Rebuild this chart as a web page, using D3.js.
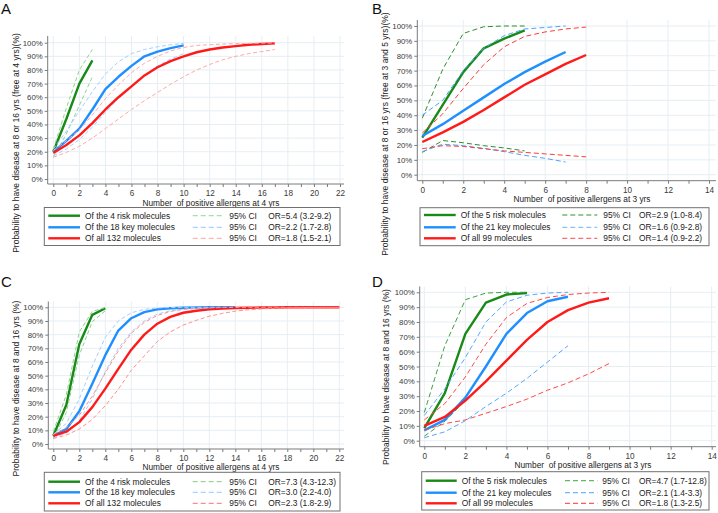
<!DOCTYPE html>
<html><head><meta charset="utf-8">
<script src="https://cdn.jsdelivr.net/npm/d3@7"></script>
<style>
html,body{margin:0;padding:0;background:#fff;}
svg{display:block;font-family:"Liberation Sans",Arial,sans-serif;}
</style></head><body>
<svg id="chart" width="718" height="513"></svg>
<script>
// ---------- DATA ----------
const percentTicks = [0,10,20,30,40,50,60,70,80,90,100];
const ticksA = [0,2,4,6,8,10,12,14,16,18,20,22];
const ticksB = [0,2,4,6,8,10,12,14];

// Panel A
const A_xRisk = [0,1,2,3];
const A_risk = [20,44,70,87];
const A_riskHi = [22,52,80,95];
const A_riskLo = [16,33,54,75];
const A_xKey = [0,1,2,3,4,5,6,7,8,9,10];
const A_key = [20,28,37,51,66,75,83,90,93.5,96,98];
const A_keyHi = [22,35,50,64,77,86,92,95,97,98.5,99.5];
const A_keyLo = [17,22,29,38,49,59,68,76,83,88,92];
const A_xAll = [0,1,2,3,4,5,6,7,8,9,10,11,12,13,14,15,16,17];
const A_all = [19,25,32,41,51,60,68,76,82,86.5,90,93,95,96.5,97.5,98.5,99,99.5];
const A_allHi = [21,28,36,47,59,69,78,85,90,94,96.5,98,98.5,99,99.3,99.5,99.7,99.8];
const A_allLo = [16,19.5,24,30,37,44,51,57.5,63.5,69.5,75,80,84,87.5,90,92,93.5,95];

// Panel B
const B_xRisk = [0,1,2,3,4,5];
const B_risk = [25,47,69,85,91.5,97];
const B_riskHi = [38,71,95,99.5,100,100];
const B_riskLo = [15,23,21.5,19.5,18,16];
const B_xKey = [0,1,2,3,4,5,6,7];
const B_key = [26,34,43,52,61,69,76,82.5];
const B_keyHi = [40,50,70,85,93.5,98,99,100];
const B_keyLo = [15.5,20.5,19.5,17.7,15.5,13,11,8.5];
const B_xAll = [0,1,2,3,4,5,6,7,8];
const B_all = [22,28.5,35.5,43.5,52,60.5,67.5,74.5,80.5];
const B_allHi = [28,41,58,74,86,93,96,98,99.3];
const B_allLo = [17.5,19.5,19,17.5,16,15,14,13,12];

// Panel C
const C_xRisk = [0,1,2,3,4];
const C_risk = [6,28.5,73,94.5,99.3];
const C_riskHi = [9,36,82,97,99.8];
const C_riskLo = [4,23,65,89.5,97.5];
const C_xKey = [0,1,2,3,4,5,6,7,8,9,10,11,12,13,14];
const C_key = [6,11,24,44,65,83,92,96.5,98.5,99.3,99.7,99.9,100,100,100];
const C_keyHi = [7,15,33,57,78,90,96,98.5,99.5,99.8,100,100,100,100,100];
const C_keyLo = [4.5,8,17,33,53,70,82,90,95,97.5,98.5,99.3,99.6,99.8,100];
const C_xAll = [0,1,2,3,4,5,6,7,8,9,10,11,12,13,14,15,16,17,18,19,20,21,22];
const C_all = [6,9,16,27,40.5,55,69,80,88,93,96,97.5,98.5,99,99.5,99.7,99.8,99.9,100,100,100,100,100];
const C_allHi = [7,12,21,35,52,68,81,89,94,97,98.5,99.2,99.6,99.8,99.9,100,100,100,100,100,100,100,100];
const C_allLo = [4,6.5,11,18,28,40,54,64.5,75,82,87,90.5,93.5,95.5,97.2,98.2,98.8,99.3,99.6,99.8,99.9,100,100];

// Panel D
const D_xRisk = [0,1,2,3,4,5];
const D_risk = [8.5,32,72,93,98.5,99.5];
const D_riskHi = [19,64,95,99.5,100,100];
const D_riskLo = [3,13,27,40,54.5,68];
const D_xKey = [0,1,2,3,4,5,6,7];
const D_key = [7,14,29,50,72,86,94,97];
const D_keyHi = [17,35,56,80,93.5,98,99.5,100];
const D_keyLo = [2,6,13.5,23,32,42,53,64];
const D_xAll = [0,1,2,3,4,5,6,7,8,9];
const D_all = [10,16,27,40,54,68,80,88,93,96];
const D_allHi = [14,25,43,65,83,92.5,96.5,98.5,99.5,100];
const D_allLo = [7,11.5,14,18.5,23,28,34,39,45,52];

// Text
const labelsAC = ["Of the 4 risk molecules","Of the 18 key molecules","Of all 132 molecules"];
const labelsBD = ["Of the 5 risk molecules","Of the 21 key molecules","Of all 99 molecules"];
const orA = ["OR=5.4 (3.2-9.2)","OR=2.2 (1.7-2.8)","OR=1.8 (1.5-2.1)"];
const orB = ["OR=2.9 (1.0-8.4)","OR=1.6 (0.9-2.8)","OR=1.4 (0.9-2.2)"];
const orC = ["OR=7.3 (4.3-12.3)","OR=3.0 (2.2-4.0)","OR=2.3 (1.8-2.9)"];
const orD = ["OR=4.7 (1.7-12.8)","OR=2.1 (1.4-3.3)","OR=1.8 (1.3-2.5)"];
const yTitleA = "Probability to have disease at 8 or 16 yrs (free at 4 yrs)(%)";
const yTitleB = "Probability to have disease at 8 or 16 yrs (free at 3 and 5 yrs)(%)";
const yTitleCD = "Probability to have disease at 8 and 16 yrs (%)";
const xTitle4 = "Number  of positive allergens at 4 yrs";
const xTitle3 = "Number  of positive allergens at 3 yrs";
const ciLabel = "95% CI";

// ---------- STYLE ----------
const solidColors = ["#178a17","#1f8fff","#ff1a1a"];

const svg = d3.select("#chart");

function drawPanel(p){
  const g = svg.append("g");
  const x = d3.scaleLinear().domain([0,p.xMax]).range([p.x0,p.x1]);
  const y = d3.scaleLinear().domain([0,100]).range([p.y0,p.y1]);

  // grid
  g.append("g").selectAll("line").data(percentTicks).join("line")
    .attr("x1",p.axisX).attr("x2",p.right)
    .attr("y1",d=>y(d)).attr("y2",d=>y(d))
    .attr("stroke","#e6eef2").attr("stroke-width",1);
  g.append("g").selectAll("line").data(p.ticks).join("line")
    .attr("x1",d=>x(d)).attr("x2",d=>x(d))
    .attr("y1",p.top).attr("y2",p.axisY)
    .attr("stroke","#e6eef2").attr("stroke-width",1);

  // y axis
  const yAxis = d3.axisLeft(y).tickValues(percentTicks).tickSize(3).tickPadding(2).tickFormat(d=>d+"%");
  const ya = g.append("g").attr("transform",`translate(${p.axisX},0)`).call(yAxis);
  ya.select(".domain").attr("d",`M-0,${p.top}V${p.axisY}`).attr("stroke","#7a7a7a");
  ya.selectAll(".tick line").attr("stroke","#7a7a7a");
  ya.selectAll(".tick text").attr("font-size",p.yFont).attr("fill","#3a3a3a").attr("font-family","Liberation Sans, Arial, sans-serif");

  // x axis
  const minor = d3.range(0,p.xMax+1,1);
  const xAxis = d3.axisBottom(x).tickValues(minor).tickSize(3).tickPadding(p.xPad)
     .tickFormat(d=> p.ticks.includes(d) ? d : "");
  const xa = g.append("g").attr("transform",`translate(0,${p.axisY})`).call(xAxis);
  xa.select(".domain").attr("d",`M${p.axisX},0H${p.right}`).attr("stroke","#7a7a7a");
  xa.selectAll(".tick line").attr("stroke","#7a7a7a");
  xa.selectAll(".tick text").attr("font-size",p.xFont).attr("fill","#3a3a3a").attr("font-family","Liberation Sans, Arial, sans-serif");

  // lines
  const line = d3.line().x(d=>x(d[0])).y(d=>y(d[1]));
  p.series.forEach((s,i)=>{
    g.append("path").attr("d",line(s.x.map((v,k)=>[v,s.mid[k]])))
      .attr("fill","none").attr("stroke",solidColors[i]).attr("stroke-width",2.4)
      .attr("stroke-linejoin","round");
    [s.hi,s.lo].forEach(arr=>{
      g.append("path").attr("d",line(s.x.map((v,k)=>[v,arr[k]])))
        .attr("fill","none").attr("stroke",p.ciColors[i]).attr("stroke-width",1)
        .attr("stroke-dasharray",p.dash);
    });
  });

  // axis titles
  g.append("text").attr("x",p.xTitleX).attr("y",p.xTitleY).attr("text-anchor","middle")
    .attr("font-size",8.3).attr("fill","#222").style("white-space","pre").text(p.xTitle);
  g.append("text").attr("transform",`translate(${p.yTitleX},${p.yTitleY}) rotate(-90)`)
    .attr("text-anchor","middle").attr("font-size",8.5).attr("fill","#222").text(p.yTitle);

  // panel label
  g.append("text").attr("x",p.lblX).attr("y",p.lblY).attr("font-size",15).attr("fill","#111").text(p.label);

  // legend
  const L = p.legend;
  g.append("rect").attr("x",L.x0).attr("y",L.y0).attr("width",L.x1-L.x0).attr("height",L.y1-L.y0)
    .attr("fill","#fff").attr("stroke","#707070").attr("stroke-width",1);
  L.rows.forEach((ry,i)=>{
    g.append("line").attr("x1",L.sx0).attr("x2",L.sx1).attr("y1",ry).attr("y2",ry)
      .attr("stroke",solidColors[i]).attr("stroke-width",2.4);
    g.append("text").attr("x",L.tx).attr("y",ry+3).attr("font-size",8.4).attr("fill","#222").text(p.names[i]);
    g.append("line").attr("x1",L.dx0).attr("x2",L.dx1).attr("y1",ry).attr("y2",ry)
      .attr("stroke",p.legCi[i]).attr("stroke-width",1.2).attr("stroke-dasharray","5,3");
    g.append("text").attr("x",L.cx).attr("y",ry+3).attr("font-size",8.4).attr("fill","#222").text(ciLabel);
    g.append("text").attr("x",L.ox).attr("y",ry+3).attr("font-size",8.4).attr("fill","#222").text(p.ors[i]);
  });
}

drawPanel({
  label:"A", lblX:1, lblY:14,
  xMax:22, ticks:ticksA, x0:53.3, x1:340, y0:179, y1:42.7, axisY:184, axisX:47.7, top:36, right:344,
  xFont:8.2, yFont:7.8, xPad:3,
  xTitle:xTitle4, xTitleX:211, xTitleY:205.5,
  yTitle:yTitleA, yTitleX:18.5, yTitleY:143,
  dash:"4,2.5", ciColors:["#93d393","#a3d0ff","#ffa8a8"], legCi:["#a8dca8","#a8d2ff","#ffb3b3"],
  names:labelsAC, ors:orA,
  series:[{x:A_xRisk,mid:A_risk,hi:A_riskHi,lo:A_riskLo},{x:A_xKey,mid:A_key,hi:A_keyHi,lo:A_keyLo},{x:A_xAll,mid:A_all,hi:A_allHi,lo:A_allLo}],
  legend:{x0:44.3,x1:340,y0:207.5,y1:245.5,rows:[215.7,227.3,238.3],sx0:48.3,sx1:80,tx:85,dx0:192.7,dx1:223.3,cx:229.3,ox:268.3}
});
drawPanel({
  label:"B", lblX:372, lblY:14,
  xMax:14, ticks:ticksB, x0:422.3, x1:709, y0:174.7, y1:26, axisY:180.7, axisX:417.3, top:20, right:716,
  xFont:8.2, yFont:7.8, xPad:3,
  xTitle:xTitle3, xTitleX:582, xTitleY:201.5,
  yTitle:yTitleB, yTitleX:388, yTitleY:134,
  dash:"5,3", ciColors:["#2f8f2f","#4aa3ff","#ff3b3b"], legCi:["#2f8f2f","#8fc3ff","#ff6b6b"],
  names:labelsBD, ors:orB,
  series:[{x:B_xRisk,mid:B_risk,hi:B_riskHi,lo:B_riskLo},{x:B_xKey,mid:B_key,hi:B_keyHi,lo:B_keyLo},{x:B_xAll,mid:B_all,hi:B_allHi,lo:B_allLo}],
  legend:{x0:420,x1:709,y0:207.7,y1:245.7,rows:[215,227.3,238.3],sx0:424,sx1:455.7,tx:460.7,dx0:562.3,dx1:597.3,cx:603.3,ox:639}
});
drawPanel({
  label:"C", lblX:1, lblY:286.5,
  xMax:22, ticks:ticksA, x0:53.3, x1:339.3, y0:444, y1:307.3, axisY:449, axisX:48.3, top:301.5, right:344,
  xFont:8.2, yFont:7.8, xPad:3,
  xTitle:xTitle4, xTitleX:211, xTitleY:469.5,
  yTitle:yTitleCD, yTitleX:18.5, yTitleY:388.5,
  dash:"4,2.5", ciColors:["#8fcf8f","#a3d0ff","#ff9090"], legCi:["#9ad69a","#a8d2ff","#ff8a8a"],
  names:labelsAC, ors:orC,
  series:[{x:C_xRisk,mid:C_risk,hi:C_riskHi,lo:C_riskLo},{x:C_xKey,mid:C_key,hi:C_keyHi,lo:C_keyLo},{x:C_xAll,mid:C_all,hi:C_allHi,lo:C_allLo}],
  legend:{x0:44.3,x1:340,y0:472.3,y1:511,rows:[481.7,492.3,503.3],sx0:48.3,sx1:80,tx:85,dx0:192.7,dx1:223.3,cx:229.3,ox:268.3}
});
drawPanel({
  label:"D", lblX:372, lblY:286.5,
  xMax:14, ticks:ticksB, x0:424.3, x1:711.7, y0:440.7, y1:292.3, axisY:446.7, axisX:419.7, top:286.5, right:716,
  xFont:8.2, yFont:7.8, xPad:3,
  xTitle:xTitle3, xTitleX:583, xTitleY:468,
  yTitle:yTitleCD, yTitleX:389, yTitleY:377,
  dash:"5,3", ciColors:["#3f9f3f","#55a8ff","#ff4a4a"], legCi:["#66b866","#6fb5ff","#ff5a5a"],
  names:labelsBD, ors:orD,
  series:[{x:D_xRisk,mid:D_risk,hi:D_riskHi,lo:D_riskLo},{x:D_xKey,mid:D_key,hi:D_keyHi,lo:D_keyLo},{x:D_xAll,mid:D_all,hi:D_allHi,lo:D_allLo}],
  legend:{x0:421.7,x1:709,y0:471.7,y1:510,rows:[480.7,492.7,503.3],sx0:425.7,sx1:456.7,tx:461.7,dx0:565,dx1:597.3,cx:602.3,ox:639}
});
</script>
</body></html>
